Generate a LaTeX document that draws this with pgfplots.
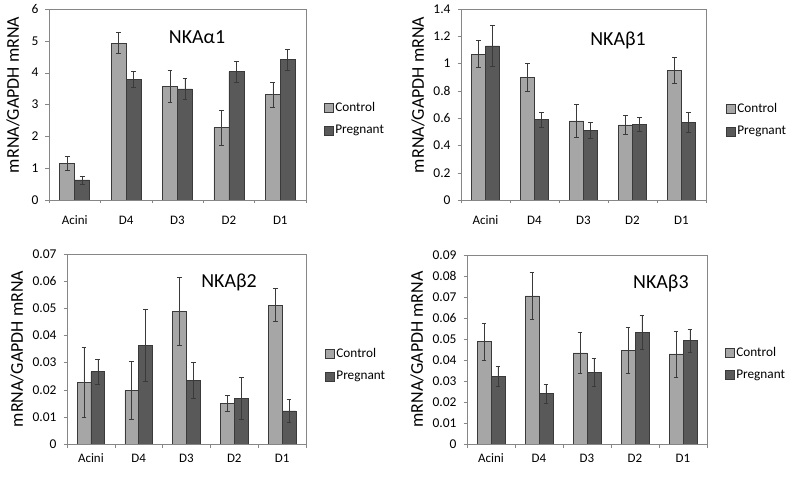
\documentclass[border=0pt]{standalone}
\usepackage{pgfplots}
\pgfplotsset{compat=1.18}
\usepackage{pgfplotstable}
\usepackage{fontspec}
\setmainfont{Carlito}
\definecolor{ctrl}{HTML}{A6A6A6}
\definecolor{preg}{HTML}{595959}
\definecolor{edge}{HTML}{3A3A3A}
\definecolor{frame}{HTML}{868686}
\newcommand\fs[1]{\fontsize{#1}{#1}\selectfont}

\pgfplotstableread{
x c ce p pe
0 1.14 0.22 0.63 0.13
1 4.93 0.33 3.80 0.25
2 3.56 0.50 3.49 0.32
3 2.27 0.55 4.03 0.33
4 3.31 0.39 4.41 0.32
}\tabA
\pgfplotstableread{
x c ce p pe
0 1.07 0.10 1.13 0.15
1 0.90 0.10 0.59 0.056
2 0.58 0.12 0.51 0.056
3 0.55 0.07 0.555 0.05
4 0.95 0.093 0.57 0.073
}\tabB
\pgfplotstableread{
x c ce p pe
0 0.0228 0.0130 0.0266 0.0047
1 0.0198 0.0107 0.0363 0.0133
2 0.0488 0.0125 0.0234 0.0067
3 0.0151 0.0030 0.0168 0.0076
4 0.0512 0.0061 0.0122 0.0041
}\tabC
\pgfplotstableread{
x c ce p pe
0 0.0488 0.0088 0.0322 0.0046
1 0.0705 0.0112 0.0241 0.0045
2 0.0434 0.0099 0.0342 0.0068
3 0.0445 0.0110 0.0531 0.0080
4 0.0429 0.0110 0.0492 0.0055
}\tabD

\pgfplotsset{
  panel/.style={
    scale only axis,
    ybar=0pt, bar width=0.29,
    xmin=-0.5, xmax=4.5, ymin=0,
    xtick={0,1,2,3,4},
    xticklabels={Acini,D4,D3,D2,D1},
    minor xtick={-0.5,0.5,1.5,2.5,3.5,4.5},
    major x tick style={draw=none},
    minor x tick style={draw=frame},
    minor tick length=3.5bp,
    major tick length=3.5bp,
    tick align=outside,
    tick pos=left,
    axis line style={draw=frame},
    ytick style={draw=frame},
    scaled y ticks=false,
    /pgf/number format/assume math mode=true,
    yticklabel style={/pgf/number format/fixed, /pgf/number format/precision=2,
      font=\fs{13.5}, xshift=-3.5bp},
    xticklabel style={font=\fs{13}},
    ylabel={mRNA/GAPDH mRNA},
    ylabel style={font=\fs{18}, anchor=center},
    legend style={draw=none, fill=none, font=\fs{13.3}, anchor=west,
      legend cell align=left, row sep=9bp, inner sep=0pt,
      nodes={inner sep=1.5bp}},
    legend image code/.code={\draw[#1, line width=0.6bp] (0bp,-4.5bp) rectangle (9bp,4.5bp);},
  },
  ctrlbar/.style={fill=ctrl, draw=edge, line width=0.6bp,
    error bars/.cd, y dir=both, y explicit,
    error bar style={line width=0.6bp, draw=edge},
    error mark options={rotate=90, line width=0.6bp, mark size=2.4bp, draw=edge}},
  pregbar/.style={fill=preg, draw=edge, line width=0.6bp,
    error bars/.cd, y dir=both, y explicit,
    error bar style={line width=0.6bp, draw=edge},
    error mark options={rotate=90, line width=0.6bp, mark size=2.4bp, draw=edge}},
}

\begin{document}
\begin{tikzpicture}
\path[use as bounding box] (0bp,0bp) rectangle (795bp,478bp);

% Panel 1
\begin{axis}[panel, at={(49bp,278bp)}, anchor=south west, width=257bp, height=191bp,
  ymax=6, ytick={0,1,2,3,4,5,6},
  xticklabel style={yshift=-9bp},
  ylabel style={at={(axis description cs:-0.14,0.55)}},
  legend style={at={(axis description cs:1.07,0.424)}}]
\addplot[ctrlbar] table[x=x,y=c,y error=ce]{\tabA};
\addplot[pregbar] table[x=x,y=p,y error=pe]{\tabA};
\legend{Control,Pregnant}
\node[font=\fs{20}] at (axis description cs:0.576,0.853) {NKAα1};
\end{axis}

% Panel 2
\begin{axis}[panel, at={(461bp,278bp)}, anchor=south west, width=245bp, height=191bp,
  ymax=1.4, ytick={0,0.2,0.4,0.6,0.8,1,1.2,1.4},
  xticklabel style={yshift=-9bp},
  ylabel style={at={(axis description cs:-0.175,0.55)}},
  legend style={at={(axis description cs:1.082,0.419)}}]
\addplot[ctrlbar] table[x=x,y=c,y error=ce]{\tabB};
\addplot[pregbar] table[x=x,y=p,y error=pe]{\tabB};
\legend{Control,Pregnant}
\node[font=\fs{20}] at (axis description cs:0.641,0.838) {NKAβ1};
\end{axis}

% Panel 3
\begin{axis}[panel, at={(67bp,34bp)}, anchor=south west, width=239bp, height=190bp,
  ymax=0.07, ytick={0,0.01,0.02,0.03,0.04,0.05,0.06,0.07},
  xticklabel style={yshift=-3bp},
  ylabel style={at={(axis description cs:-0.209,0.5)}},
  legend style={at={(axis description cs:1.08,0.416)}}]
\addplot[ctrlbar] table[x=x,y=c,y error=ce]{\tabC};
\addplot[pregbar] table[x=x,y=p,y error=pe]{\tabC};
\legend{Control,Pregnant}
\node[font=\fs{20}] at (axis description cs:0.678,0.853) {NKAβ2};
\end{axis}

% Panel 4
\begin{axis}[panel, at={(467bp,34bp)}, anchor=south west, width=240bp, height=189bp,
  ymax=0.09, ytick={0,0.01,0.02,0.03,0.04,0.05,0.06,0.07,0.08,0.09},
  xticklabel style={yshift=-3bp},
  ylabel style={at={(axis description cs:-0.208,0.5)}},
  legend style={at={(axis description cs:1.075,0.426)}}]
\addplot[ctrlbar] table[x=x,y=c,y error=ce]{\tabD};
\addplot[pregbar] table[x=x,y=p,y error=pe]{\tabD};
\legend{Control,Pregnant}
\node[font=\fs{20}] at (axis description cs:0.808,0.852) {NKAβ3};
\end{axis}
\end{tikzpicture}
\end{document}
